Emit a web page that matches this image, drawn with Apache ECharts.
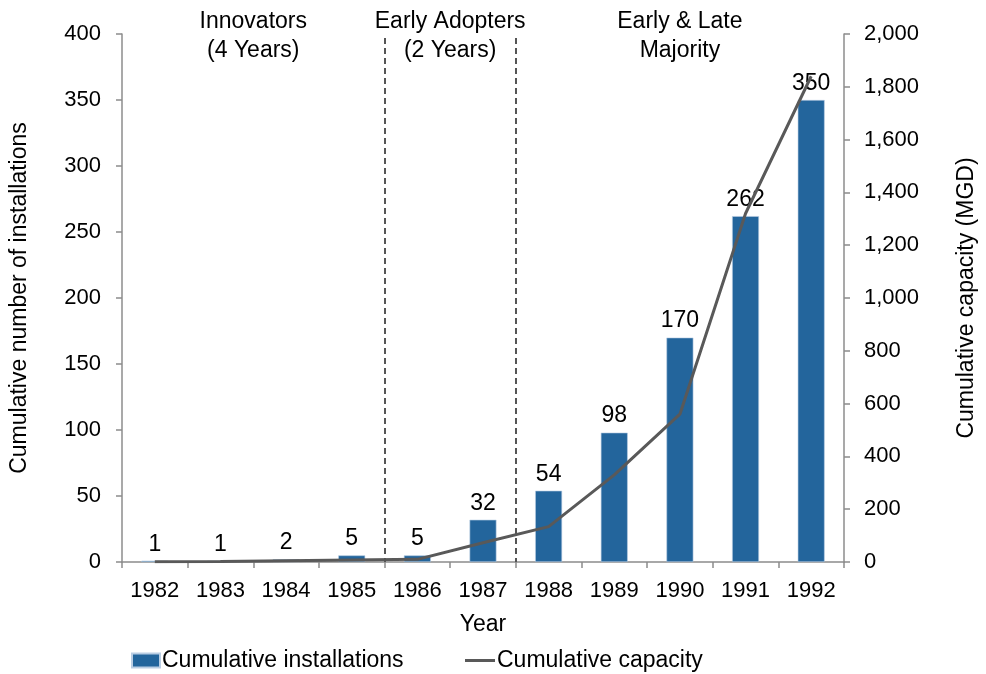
<!DOCTYPE html>
<html>
<head>
<meta charset="utf-8">
<script src="https://cdn.jsdelivr.net/npm/echarts@6/dist/echarts.min.js"></script>
<style>
  html, body { margin: 0; padding: 0; background: #fff; }
  #chart { width: 986px; height: 674px; }
</style>
</head>
<body>
<div id="chart"></div>
<script>
// Desalination adoption by year
const years = ['1982', '1983', '1984', '1985', '1986', '1987', '1988', '1989', '1990', '1991', '1992'];
const installations = [1, 1, 2, 5, 5, 32, 54, 98, 170, 262, 350];
const capacity = [1, 2, 5, 8, 10, 73, 134, 330, 560, 1320, 1840];
// Phase boundaries, in category-slot units (0 = left edge of 1982)
const phaseBreaks = [4, 6];
const phaseLabels = [
  ['Innovators', '(4 Years)'],
  ['Early Adopters', '(2 Years)'],
  ['Early & Late', 'Majority']
];

const FONT = 'Liberation Sans, Arial, sans-serif';
const axisGray = '#8c8c8c';
const TICK_FS = 22;
const TEXT_FS = 23;

const chart = echarts.init(document.getElementById('chart'));

const legendText = { fontSize: TEXT_FS, color: '#000', fontFamily: FONT, padding: [0, 0, 0, -3] };

chart.setOption({
  animation: false,
  textStyle: { fontFamily: FONT },
  grid: { left: 121, right: 141, top: 34, bottom: 112 },
  legend: [
    {
      bottom: -3,
      left: 126,
      itemWidth: 28,
      itemHeight: 14,
      textStyle: legendText,
      data: [{ name: 'Cumulative installations', icon: 'rect' }]
    },
    {
      bottom: -3,
      left: 460,
      itemWidth: 30,
      itemHeight: 3,
      textStyle: legendText,
      data: [{ name: 'Cumulative capacity', icon: 'rect' }]
    }
  ],
  xAxis: [
    {
      type: 'category',
      data: years,
      name: 'Year',
      nameLocation: 'middle',
      nameGap: 51,
      nameTextStyle: { fontSize: TEXT_FS, color: '#000', fontFamily: FONT },
      axisLine: { lineStyle: { color: axisGray, width: 1.5 } },
      axisTick: { show: true, length: 6, lineStyle: { color: axisGray, width: 1.5 } },
      axisLabel: { fontSize: TICK_FS, color: '#000', margin: 18, fontFamily: FONT }
    },
    {
      type: 'value',
      min: 0,
      max: years.length,
      show: false
    }
  ],
  yAxis: [
    {
      type: 'value',
      min: 0,
      max: 400,
      interval: 50,
      name: 'Cumulative number of installations',
      nameLocation: 'middle',
      nameGap: 91,
      nameTextStyle: { fontSize: TEXT_FS, color: '#000', fontFamily: FONT },
      axisLine: { show: true, lineStyle: { color: axisGray, width: 1.5 } },
      axisTick: { show: true, length: 6, lineStyle: { color: axisGray, width: 1.5 } },
      axisLabel: { fontSize: TICK_FS, color: '#000', margin: 21, fontFamily: FONT },
      splitLine: { show: false }
    },
    {
      type: 'value',
      min: 0,
      max: 2000,
      interval: 200,
      name: 'Cumulative capacity (MGD)',
      nameLocation: 'middle',
      nameGap: 111,
      nameRotate: 90,
      nameTextStyle: { fontSize: TEXT_FS, color: '#000', fontFamily: FONT },
      axisLine: { show: true, lineStyle: { color: axisGray, width: 1.5 } },
      axisTick: { show: true, length: 6, lineStyle: { color: axisGray, width: 1.5 } },
      axisLabel: {
        fontSize: TICK_FS, color: '#000', margin: 20, fontFamily: FONT,
        formatter: v => v.toLocaleString('en-US')
      },
      splitLine: { show: false }
    }
  ],
  series: [
    {
      name: 'Cumulative installations',
      type: 'bar',
      data: installations,
      barWidth: '41%',
      itemStyle: { color: '#23659c', borderColor: '#b9cde3', borderWidth: 0.6 },
      label: {
        show: true,
        position: 'top',
        distance: 5,
        fontSize: TEXT_FS,
        color: '#000',
        fontFamily: FONT
      },
      z: 2
    },
    {
      name: 'Cumulative capacity',
      type: 'line',
      yAxisIndex: 1,
      data: capacity,
      symbol: 'none',
      lineStyle: { color: '#595959', width: 3 },
      itemStyle: { color: '#595959' },
      z: 3
    },
    {
      name: 'phases',
      type: 'scatter',
      xAxisIndex: 1,
      yAxisIndex: 0,
      data: [],
      silent: true,
      markLine: {
        silent: true,
        symbol: 'none',
        label: { show: false },
        lineStyle: { color: '#555', type: [6, 4], width: 2 },
        data: phaseBreaks.map(b => [
          { coord: [b, 397] },
          { coord: [b, 0] }
        ])
      }
    }
  ]
});

// Phase captions above the plot
function placeCaptions() {
  const edges = [0].concat(phaseBreaks, [years.length]);
  const elements = phaseLabels.map((lines, i) => {
    const x0 = chart.convertToPixel({ xAxisIndex: 1 }, edges[i]);
    const x1 = chart.convertToPixel({ xAxisIndex: 1 }, edges[i + 1]);
    return {
      type: 'text',
      x: (x0 + x1) / 2,
      y: 7,
      style: {
        text: lines.join('\n'),
        fontSize: TEXT_FS,
        lineHeight: 29,
        fontFamily: FONT,
        fill: '#000',
        align: 'center',
        verticalAlign: 'top'
      },
      z: 10
    };
  });
  chart.setOption({ graphic: elements });
}
placeCaptions();
</script>
</body>
</html>
